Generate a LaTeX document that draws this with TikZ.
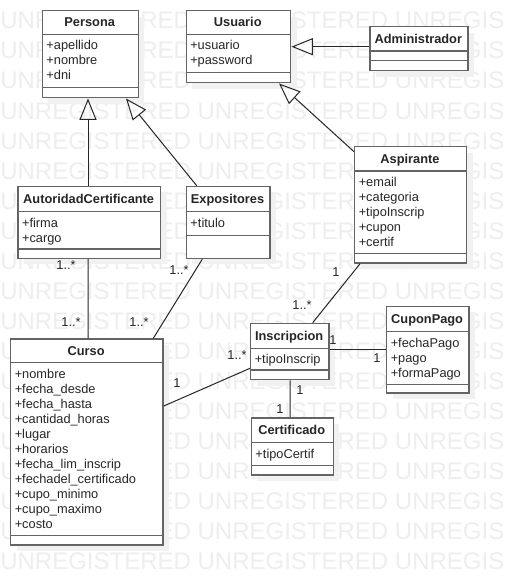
\documentclass[tikz,border=0pt]{standalone}
\usepackage{fontspec}
\setmainfont{Liberation Sans}
\usetikzlibrary{arrows.meta,shadows}
\definecolor{boxline}{RGB}{100,100,100}
\definecolor{wmgray}{RGB}{238,238,238}
\definecolor{shadowgray}{RGB}{241,241,241}
\tikzset{
  classbox/.style={draw=boxline, line width=1.1pt, fill=white, inner sep=0pt,
    drop shadow={shadow xshift=4.5pt, shadow yshift=-4.5pt, fill=shadowgray, draw=none, opacity=1}},
  divider/.style={draw=boxline, line width=1.1pt},
  titletext/.style={font=\fontsize{9.6}{11}\selectfont\bfseries, inner sep=0pt, text=black!85},
  attrtext/.style={font=\fontsize{9.6}{11}\selectfont, inner sep=0pt, text=black!85},
  multlabel/.style={font=\fontsize{9.6}{11}\selectfont, inner sep=0pt, text=black!85},
  wmtext/.style={font=\fontsize{18}{20}\selectfont, inner sep=0pt, text=wmgray},
  assoc/.style={draw=black!85, line width=0.75pt},
  gen/.style={draw=black!85, line width=0.75pt, -{Triangle[open, length=16pt, width=12.75pt]}}
}
% #1 name, #2 L, #3 T, #4 R, #5 B, #6 first divider, #7 second divider, #8 title, #9 attributes
\newcommand{\umlclass}[9]{%
  \node[classbox, anchor=north west, minimum width={(#4-#2)*0.75pt}, minimum height={(#5-#3)*0.75pt}] (#1) at (#2,#3) {};
  \draw[divider] (#2,#6) -- (#4,#6);
  \draw[divider] (#2,#7) -- (#4,#7);
  \node[titletext, anchor=base] (#1-title) at ({(#2+#4)/2},{(#3+#6)/2+4.6}) {#8};
  \if\relax\detokenize{#9}\relax\else
    \foreach \attr [count=\k from 0] in {#9} {
      \node[attrtext, anchor=base west] (#1-a\k) at (#2+4.5, #6+15.3+15*\k) {\attr};
    }
  \fi
}
\begin{document}
\begin{tikzpicture}[x=0.75pt,y=-0.75pt]
\clip (0,0) rectangle (508,585);
\useasboundingbox (0,0) rectangle (508,585);
\fill[white] (0,0) rectangle (508,585);
% watermark
\foreach \r in {0,...,18} {
  \node[wmtext, anchor=base west] (wm\r) at (0, 29+30*\r) {UNREGISTERED UNREGISTERED UNREGIS};
}
% classes
\umlclass{persona}{41.7}{10}{137.7}{97}{34.3}{87.7}{Persona}{+apellido,+nombre,+dni}
\umlclass{usuario}{185.5}{10}{290}{82}{34.3}{72.3}{Usuario}{+usuario,+password}
\umlclass{admin}{369.3}{26}{467.3}{70}{51}{60.7}{Administrador}{}
\umlclass{autoridad}{17.3}{185.7}{160}{257.7}{211.7}{249}{AutoridadCertificante}{+firma,+cargo}
\umlclass{expositores}{185.7}{185.7}{269.3}{257.7}{211.7}{235.7}{Expositores}{+titulo}
\umlclass{aspirante}{354}{146}{466}{262.3}{171}{253.3}{Aspirante}{+email,+categoria,+tipoInscrip,+cupon,+certif}
\umlclass{curso}{10}{338.3}{162.3}{544.3}{362.7}{535.7}{Curso}{+nombre,+fecha\_desde,+fecha\_hasta,+cantidad\_horas,+lugar,+horarios,+fecha\_lim\_inscrip,+fechadel\_certificado,+cupo\_minimo,+cupo\_maximo,+costo}
\umlclass{inscripcion}{250}{322.7}{328.3}{379}{348.3}{370}{Inscripcion}{+tipoInscrip}
\umlclass{cupon}{386}{305.7}{468.3}{392.3}{331.7}{384.3}{CuponPago}{+fechaPago,+pago,+formaPago}
\umlclass{certificado}{250.7}{417.3}{332.7}{474.3}{442.7}{465.7}{Certificado}{+tipoCertif}
% generalizations
\draw[gen] ([xshift=70.7*0.75pt]autoridad.north west) -- ([xshift=46.3*0.75pt]persona.south west);
\draw[gen] ([xshift=11*0.75pt]expositores.north west) -- ([xshift=84.3*0.75pt]persona.south west);
\draw[gen] ([yshift=-5.7*0.75pt]aspirante.north west) -- ([xshift=93.5*0.75pt]usuario.south west);
\draw[gen] ([yshift=-20.7*0.75pt]admin.north west) -- ([yshift=-36.7*0.75pt]usuario.north east);
% associations
\draw[assoc] ([xshift=70.7*0.75pt]autoridad.south west) -- ([xshift=78*0.75pt]curso.north west);
\draw[assoc] ([xshift=16.6*0.75pt]expositores.south west) -- ([xshift=143.3*0.75pt]curso.north west);
\draw[assoc] ([xshift=6*0.75pt]aspirante.south west) -- ([xshift=62.7*0.75pt]inscripcion.north west);
\draw[assoc] ([yshift=-26.6*0.75pt]inscripcion.north east) -- ([yshift=-43.6*0.75pt]cupon.north west);
\draw[assoc] ([xshift=40*0.75pt]inscripcion.south west) -- ([xshift=39.3*0.75pt]certificado.north west);
\draw[assoc] ([yshift=-67.7*0.75pt]curso.north east) -- ([yshift=-45.6*0.75pt]inscripcion.north west);
% multiplicities
\node[multlabel] (m1) at (66,265) {1..*};
\node[multlabel] (m2) at (71,322) {1..*};
\node[multlabel] (m3) at (179,270) {1..*};
\node[multlabel] (m4) at (139,322) {1..*};
\node[multlabel] (m5) at (336,272) {1};
\node[multlabel] (m6) at (302,305) {1..*};
\node[multlabel] (m7) at (333,340) {1};
\node[multlabel] (m8) at (377,358) {1};
\node[multlabel] (m9) at (300,390) {1};
\node[multlabel] (m10) at (280,409) {1};
\node[multlabel] (m11) at (177,383) {1};
\node[multlabel] (m12) at (237,355) {1..*};
\end{tikzpicture}
\end{document}
